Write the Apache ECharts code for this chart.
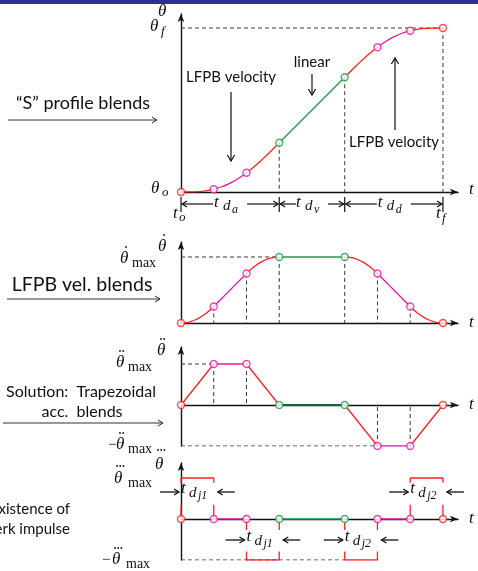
<!DOCTYPE html>
<html>
<head>
<meta charset="utf-8">
<script src="https://cdn.jsdelivr.net/npm/echarts@6/dist/echarts.min.js"></script>
<style>
  html, body { margin: 0; padding: 0; background: #fff; }
  #main { width: 478px; height: 571px; }
</style>
</head>
<body>
<div id="main"></div>
<script>
// knot times t_o .. t_f (units of one blend step)
const knotT = [0, 1, 2, 3, 5, 6, 7, 8];
const knotColors = ['red', 'mag', 'mag', 'green', 'green', 'mag', 'mag', 'red'];
const segColors = ['red', 'mag', 'red', 'green', 'red', 'mag', 'red'];

// samples read along the position / velocity curves
const sampleT = [0, 0.25, 0.5, 0.75, 1, 1.25, 1.5, 1.75, 2, 2.25, 2.5, 2.75, 3,
                 5, 5.25, 5.5, 5.75, 6, 6.25, 6.5, 6.75, 7, 7.25, 7.5, 7.75, 8];
const thetaVals = [0, 0.003, 0.02, 0.07, 0.17, 0.32, 0.54, 0.82, 1.17, 1.57, 2.02, 2.5, 3,
                   7, 7.5, 7.98, 8.43, 8.83, 9.18, 9.46, 9.68, 9.83, 9.93, 9.98, 9.997, 10];
const velVals = [0, 0.03, 0.125, 0.28, 0.5, 0.75, 1, 1.25, 1.5, 1.72, 1.875, 1.97, 2,
                 2, 1.97, 1.875, 1.72, 1.5, 1.25, 1, 0.75, 0.5, 0.28, 0.125, 0.03, 0];
// acceleration at the knots (normalised to acc max)
const accVals = [0, 1, 1, 0, 0, -1, -1, 0];
// jerk level on each segment (impulses)
const jerkLevels = [1, 0, -1, 0, -1, 0, 1];
const jerkNames = ['1', '', '1', '', '2', '', '2'];
const phases = [{a: 0, b: 3, sub: 'a'}, {a: 3, b: 5, sub: 'v'}, {a: 5, b: 8, sub: 'd'}];

const COL = {red: '#ff2020', mag: '#ec179d', green: '#1f9a4b', dkgreen: '#0c6a31'};
const SANS = 'Lato, "Open Sans", sans-serif';
const SERIF = '"Liberation Serif", "DejaVu Serif", serif';
const INK = '#111';

let chart = echarts.init(document.getElementById('main'));

let gridDefs = [
    {top: 14, height: 178, min: 0, max: 10.854},
    {top: 242, height: 81, min: 0, max: 2.4545},
    {top: 347, height: 99, min: -1, max: 1.4146},
    {top: 463, height: 97, min: -1, max: 1.366}
];

let axisLine = {
    onZero: true,
    symbol: ['none', 'arrow'],
    symbolSize: [5, 8],
    lineStyle: {color: '#111', width: 1.4}
};

let series = [];

function line(gi, pts, color, width, opts) {
    series.push(Object.assign({
        type: 'line', xAxisIndex: gi, yAxisIndex: gi, data: pts,
        symbol: 'none', silent: true, animation: false,
        lineStyle: {color: color, width: width}, z: 5
    }, opts || {}));
}

function dashed(gi, pts) {
    line(gi, pts, '#3a3a3a', 1, {lineStyle: {color: '#3a3a3a', width: 1, type: [4, 3]}, z: 2});
}

function markers(gi, vals) {
    series.push({
        type: 'scatter', xAxisIndex: gi, yAxisIndex: gi, silent: true,
        symbol: 'circle', symbolSize: 7, z: 10,
        data: knotT.map((t, i) => ({
            value: [t, vals[i]],
            itemStyle: {color: '#fff', borderColor: COL[knotColors[i]], borderWidth: 1.4}
        }))
    });
}

function sampled(vals, a, b) {
    let out = [];
    sampleT.forEach((t, k) => { if (t >= a && t <= b) out.push([t, vals[k]]); });
    return out;
}

function atKnots(vals) {
    return knotT.map(t => vals[sampleT.indexOf(t)]);
}

// panel 0: position
let thetaK = atKnots(thetaVals);
dashed(0, [[0, thetaK[7]], [8, thetaK[7]]]);
[3, 4, 7].forEach(i => dashed(0, [[knotT[i], thetaK[i]], [knotT[i], 0]]));
segColors.forEach((c, i) => line(0, sampled(thetaVals, knotT[i], knotT[i + 1]), COL[c], 1.3, {smooth: true}));
markers(0, thetaK);

// panel 1: velocity
let velK = atKnots(velVals);
dashed(1, [[0, velK[3]], [knotT[3], velK[3]]]);
[1, 2, 3, 4, 5, 6].forEach(i => dashed(1, [[knotT[i], velK[i]], [knotT[i], 0]]));
segColors.forEach((c, i) => line(1, sampled(velVals, knotT[i], knotT[i + 1]), COL[c], 1.3, {smooth: true}));
markers(1, velK);

// panel 2: acceleration
dashed(2, [[0, accVals[1]], [knotT[1], accVals[1]]]);
dashed(2, [[0, accVals[5]], [knotT[5], accVals[5]]]);
[1, 2, 5, 6].forEach(i => dashed(2, [[knotT[i], accVals[i]], [knotT[i], 0]]));
segColors.forEach((c, i) => {
    let pts = [[knotT[i], accVals[i]], [knotT[i + 1], accVals[i + 1]]];
    if (c === 'green') line(2, pts, COL.dkgreen, 2);
    else line(2, pts, COL[c], 1.3);
});
markers(2, accVals);

// panel 3: jerk
dashed(3, [[0, -1], [knotT[4], -1]]);
jerkLevels.forEach((j, i) => {
    let a = knotT[i], b = knotT[i + 1];
    if (j === 0) {
        line(3, [[a, 0], [b, 0]], COL[segColors[i]], 1.4);
    } else if (j > 0) {
        line(3, [[a, 0.885], [a, j], [b, j], [b, 0.885]], COL.red, 1.3);
        line(3, [[a, 0], [a, 0.35]], COL.red, 1.3);
        line(3, [[b, 0], [b, 0.35]], COL.red, 1.3);
    } else {
        line(3, [[a, -0.79], [a, j], [b, j], [b, -0.79]], COL.red, 1.3);
        line(3, [[a, 0], [a, -0.27]], COL.red, 1.3);
        line(3, [[b, 0], [b, -0.27]], COL.red, 1.3);
    }
});
markers(3, knotT.map(() => 0));

let option = {
    animation: false,
    backgroundColor: '#fff',
    grid: gridDefs.map(g => ({left: 181, width: 277, top: g.top, height: g.height})),
    xAxis: gridDefs.map((g, i) => ({
        type: 'value', gridIndex: i, min: 0, max: 8.46,
        axisLine: axisLine, axisTick: {show: false}, axisLabel: {show: false}, splitLine: {show: false}
    })),
    yAxis: gridDefs.map((g, i) => ({
        type: 'value', gridIndex: i, min: g.min, max: g.max,
        axisLine: axisLine, axisTick: {show: false}, axisLabel: {show: false}, splitLine: {show: false}
    })),
    series: series
};
chart.setOption(option);

// ---- annotations ----
let P = (gi, t, v) => chart.convertToPixel({gridIndex: gi}, [t, v]);
let g = [];

function txt(x, y, s, size, opts) {
    g.push({type: 'text', x: x, y: y, z: 50, style: Object.assign({
        text: s, fontFamily: SANS, fontSize: size, fill: INK, align: 'center', verticalAlign: 'middle'
    }, opts || {})});
}

// math label: parts are [text, dx, dy, size, upright] or ['.', dx, dy, count]
function mt(x, y, parts) {
    parts.forEach(p => {
        if (p[0] === '.') {
            for (let k = 0; k < p[3]; k++) {
                g.push({type: 'circle', z: 50, shape: {cx: x + p[1] + k * 3.2, cy: y + p[2], r: 0.9}, style: {fill: INK}});
            }
            return;
        }
        g.push({type: 'text', x: x + p[1], y: y + p[2], z: 50, style: {
            text: p[0], fontFamily: SERIF, fontSize: p[3], fontStyle: p[4] ? 'normal' : 'italic',
            fill: INK, align: 'left', verticalAlign: 'middle'
        }});
    });
}

function arrow(x1, y1, x2, y2, color, lw, head) {
    let dx = x2 - x1, dy = y2 - y1, L = Math.hypot(dx, dy), ux = dx / L, uy = dy / L;
    let h = head || 6, w = h * 0.6;
    g.push({type: 'line', z: 40, shape: {x1: x1, y1: y1, x2: x2, y2: y2}, style: {stroke: color, lineWidth: lw}});
    g.push({type: 'polyline', z: 40, shape: {points: [
        [x2 - ux * h - uy * w, y2 - uy * h + ux * w], [x2, y2], [x2 - ux * h + uy * w, y2 - uy * h - ux * w]
    ]}, style: {stroke: color, lineWidth: lw, fill: null}});
}

function vline(x, y1, y2, color, lw) {
    g.push({type: 'line', z: 40, shape: {x1: x, y1: y1, x2: x, y2: y2}, style: {stroke: color, lineWidth: lw}});
}

// header band
g.push({type: 'rect', z: 60, shape: {x: 0, y: 0, width: 478, height: 4}, style: {fill: '#2f2f96'}});

// panel 0 labels
let base0 = P(0, 0, 0)[1];
mt(158, 12, [['θ', 0, 0, 17]]);
mt(150, 27, [['θ', 0, 0, 17], ['f', 11, 5, 13]]);
mt(151, 189, [['θ', 0, 0, 17], ['o', 11, 4, 13]]);
mt(469, 190, [['t', 0, 0, 17]]);

let dimY = base0 + 12;
phases.forEach(ph => {
    let xa = P(0, ph.a, 0)[0], xb = P(0, ph.b, 0)[0], c = (xa + xb) / 2;
    let half = ph.sub === 'v' ? 16 : 17;
    arrow(c - half, dimY, xa + 1, dimY, INK, 1.2, 5);
    arrow(c + half, dimY, xb - 1, dimY, INK, 1.2, 5);
    mt(c - 16, dimY - 1, [['t', 0, 0, 17], ['d', 9, 3, 15], [ph.sub, 18, 7, 12]]);
});
[0, 3, 5, 8].forEach(t => vline(P(0, t, 0)[0], base0 + 5, base0 + 20, INK, 1.2));
mt(P(0, 0, 0)[0] - 8, dimY + 10, [['t', 0, 0, 17], ['o', 6, 4, 13]]);
mt(P(0, 8, 0)[0] - 7, dimY + 10, [['t', 0, 0, 17], ['f', 6, 5, 13]]);

txt(231, 77, 'LFPB velocity', 15);
arrow(231, 92, 231, 161, INK, 1.2, 6);
txt(312, 62, 'linear', 15);
arrow(312, 74, 312, 95, INK, 1.2, 6);
txt(394, 142, 'LFPB velocity', 15);
arrow(395, 130, 395, 58, INK, 1.2, 6);

txt(83, 103, '\u201cS\u201d profile blends', 18);
arrow(8, 120, 157, 120, '#333', 1, 5);

// panel 1 labels
let base1 = P(1, 0, 0)[1];
mt(158, 247, [['θ', 0, 0, 17], ['.', 6, -12, 1]]);
mt(120, 259, [['θ', 0, 0, 17], ['.', 6, -12, 1], ['max', 12, 4, 14, 1]]);
mt(469, base1, [['t', 0, 0, 17]]);
txt(82, 285, 'LFPB vel. blends', 19.5);
arrow(7, 299, 160, 299, '#333', 1, 5);

// panel 2 labels
let base2 = P(2, 0, 0)[1];
mt(157, 351, [['θ', 0, 0, 17], ['.', 4, -12, 2]]);
mt(116, 363, [['θ', 0, 0, 17], ['.', 4, -12, 2], ['max', 12, 4, 14, 1]]);
mt(108, 445, [['−', 0, 0, 15, 1], ['θ', 8, 0, 17], ['.', 12, -12, 2], ['max', 20, 4, 14, 1]]);
mt(469, base2, [['t', 0, 0, 17]]);
txt(81, 392, 'Solution:  Trapezoidal', 16);
txt(82, 412, 'acc.  blends', 16);
arrow(3, 423, 163, 423, '#333', 1, 5);

// panel 3 labels
let base3 = P(3, 0, 0)[1];
mt(155, 465, [['θ', 0, 0, 17], ['.', 3, -15, 3]]);
mt(114, 479, [['θ', 0, 0, 17], ['.', 3, -13, 3], ['max', 14, 4, 14, 1]]);
mt(102, 560, [['−', 0, 0, 15, 1], ['θ', 10, 0, 17], ['.', 13, -12, 3], ['max', 24, 4, 14, 1]]);
mt(469, base3, [['t', 0, 0, 17]]);
txt(70, 509, 'Existence of', 15, {align: 'right'});
txt(70, 529, 'Jerk impulse', 15, {align: 'right'});

jerkLevels.forEach((j, i) => {
    if (j === 0) return;
    let xa = P(3, knotT[i], 0)[0], xb = P(3, knotT[i + 1], 0)[0];
    let y = j > 0 ? base3 - 27 : base3 + 21;
    arrow(xa - 21, y, xa - 2, y, INK, 1.3, 5);
    arrow(xb + 21, y, xb + 4, y, INK, 1.3, 5);
    mt(xa, y - 3, [['t', 0, 0, 17], ['d', 8, 4, 15], ['j' + jerkNames[i], 17, 7, 12]]);
});

chart.setOption({graphic: g});
</script>
</body>
</html>
